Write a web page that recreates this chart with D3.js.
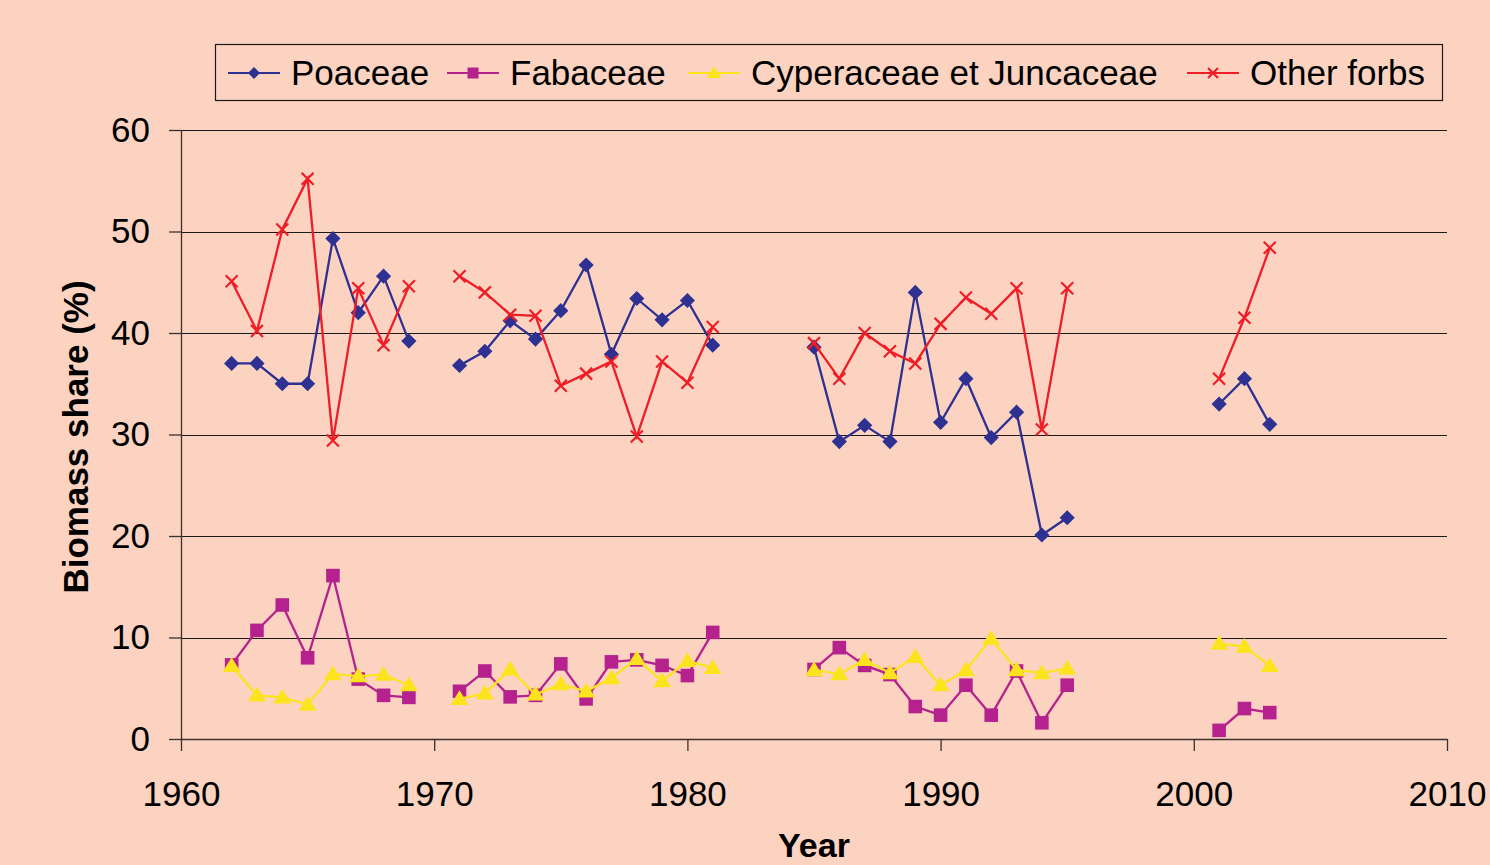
<!DOCTYPE html>
<html><head><meta charset="utf-8">
<script src="https://cdn.jsdelivr.net/npm/d3@7"></script>
<style>html,body{margin:0;padding:0;background:#FCD3C1;overflow:hidden}</style>
</head><body>
<svg id="chart" width="1490" height="865"></svg>
<script>
const years = d3.range(1962, 2004);
const poaceae = [37, 37, 35, 35, 49.3, 42.0, 45.6, 39.2, null,
  36.8, 38.2, 41.2, 39.4, 42.2, 46.7, 37.9, 43.4, 41.3, 43.2, 38.8, null, null, null,
  38.6, 29.3, 30.9, 29.3, 44.0, 31.2, 35.5, 29.7, 32.2, 20.1, 21.8, null, null, null, null, null,
  33.0, 35.5, 31.0];
const fabaceae = [7.3, 10.7, 13.2, 8.0, 16.1, 5.9, 4.3, 4.1, null,
  4.7, 6.7, 4.15, 4.3, 7.4, 3.95, 7.6, 7.8, 7.25, 6.25, 10.5, null, null, null,
  6.85, 9.0, 7.25, 6.35, 3.2, 2.35, 5.3, 2.35, 6.7, 1.6, 5.3, null, null, null, null, null,
  0.85, 3.0, 2.6];
const cyperaceae = [7.2, 4.3, 4.1, 3.4, 6.4, 6.2, 6.35, 5.3, null,
  3.95, 4.5, 6.85, 4.4, 5.4, 4.7, 6.0, 7.9, 5.7, 7.7, 7.0, null, null, null,
  6.8, 6.4, 7.8, 6.5, 8.1, 5.3, 6.8, 9.9, 6.8, 6.5, 6.95, null, null, null, null, null,
  9.4, 9.1, 7.2];
const otherForbs = [45.1, 40.2, 50.2, 55.2, 29.4, 44.4, 38.8, 44.6, null,
  45.6, 44.0, 41.8, 41.7, 34.8, 36.0, 37.2, 29.8, 37.2, 35.1, 40.6, null, null, null,
  39.0, 35.5, 40.0, 38.2, 37.0, 40.9, 43.5, 41.9, 44.4, 30.5, 44.4, null, null, null, null, null,
  35.5, 41.5, 48.4];
const seriesNames = ["Poaceae", "Fabaceae", "Cyperaceae et Juncaceae", "Other forbs"];
const xTicks = [1960, 1970, 1980, 1990, 2000, 2010];
const yTicks = [0, 10, 20, 30, 40, 50, 60];

const colors = ["#2E3192", "#B5228D", "#FBE31E", "#EE1D26"];
const series = [poaceae, fabaceae, cyperaceae, otherForbs].map((vals, i) => ({
  name: seriesNames[i], color: colors[i], symbol: i,
  points: years.map((y, j) => ({year: y, value: vals[j]}))
}));

const svg = d3.select("#chart");
const font = "'Liberation Sans', Arial, sans-serif";
svg.append("rect").attr("width", 1490).attr("height", 865).attr("fill", "#FCD3C1");

const x = d3.scaleLinear().domain([1960, 2010]).range([181, 1447]);
const y = d3.scaleLinear().domain([0, 60]).range([739, 130]);

// gridlines
svg.append("g").selectAll("line").data(yTicks.filter(d => d > 0)).join("line")
  .attr("x1", x(1960)).attr("x2", x(2010))
  .attr("y1", d => Math.round(y(d)) + 0.5).attr("y2", d => Math.round(y(d)) + 0.5)
  .attr("stroke", "#1a1a1a").attr("stroke-width", 1.2);

// axes
const yAxis = svg.append("g").attr("transform", `translate(${x(1960)},0)`)
  .call(d3.axisLeft(y).tickValues(yTicks).tickSize(12).tickPadding(19).tickSizeOuter(0));
const xAxis = svg.append("g").attr("transform", `translate(0,${y(0)})`)
  .call(d3.axisBottom(x).tickValues(xTicks).tickFormat(d3.format("d")).tickSize(12).tickPadding(30).tickSizeOuter(0));
[yAxis, xAxis].forEach(g => {
  g.selectAll("path").attr("stroke", "#3a3030").attr("stroke-width", 1.3);
  g.selectAll(".tick line").attr("stroke", "#3a3030").attr("stroke-width", 1.3);
  g.selectAll("text").attr("fill", "#000").style("font-family", font).style("font-size", "35px");
});

// axis titles
svg.append("text").attr("x", 814).attr("y", 857).attr("text-anchor", "middle")
  .style("font-family", font).style("font-size", "34px").style("font-weight", "bold").text("Year");
svg.append("text").attr("transform", "translate(88,437) rotate(-90)").attr("text-anchor", "middle")
  .style("font-family", font).style("font-size", "35px").style("font-weight", "bold").text("Biomass share (%)");

// series
const line = d3.line().defined(d => d.value != null).x(d => x(d.year)).y(d => y(d.value));
function drawMarker(sel, s, r) {
  let d;
  if (s.symbol === 0) d = `M0,${-r}L${r},0L0,${r}L${-r},0Z`;
  else if (s.symbol === 1) d = `M${-r},${-r}H${r}V${r}H${-r}Z`;
  else if (s.symbol === 2) d = `M0,${-r * 1.05}L${r * 1.1},${r * 0.75}H${-r * 1.1}Z`;
  if (s.symbol === 3) {
    sel.append("path").attr("d", `M${-r},${-r}L${r},${r}M${-r},${r}L${r},${-r}`)
      .attr("fill", "none").attr("stroke", s.color).attr("stroke-width", 2.2);
  } else {
    sel.append("path").attr("d", d).attr("fill", s.color);
  }
}
const markR = [7.6, 6.8, 8.2, 6.0];
series.forEach((s, i) => {
  const g = svg.append("g");
  g.append("path").datum(s.points).attr("d", line).attr("fill", "none")
    .attr("stroke", s.color).attr("stroke-width", 2.3);
  g.selectAll("g.m").data(s.points.filter(d => d.value != null)).join("g")
    .attr("transform", d => `translate(${x(d.year)},${y(d.value)})`)
    .each(function() { drawMarker(d3.select(this), s, markR[i]); });
});

// legend
const legendX = [228, 447, 688, 1187];
const lg = svg.append("g");
lg.append("rect").attr("x", 215.5).attr("y", 44.5).attr("width", 1227).attr("height", 56)
  .attr("fill", "none").attr("stroke", "#1a1a1a").attr("stroke-width", 1.2);
series.forEach((s, i) => {
  const g = lg.append("g").attr("transform", `translate(${legendX[i]},73)`);
  g.append("line").attr("x1", 0).attr("x2", 52).attr("stroke", s.color).attr("stroke-width", 2);
  const m = g.append("g").attr("transform", "translate(26,0)");
  drawMarker(m, s, [6, 5.5, 6.5, 5][i]);
  g.append("text").attr("x", 63).attr("y", 12).style("font-family", font).style("font-size", "35px")
    .attr("fill", "#000").text(s.name);
});
</script>
</body></html>
